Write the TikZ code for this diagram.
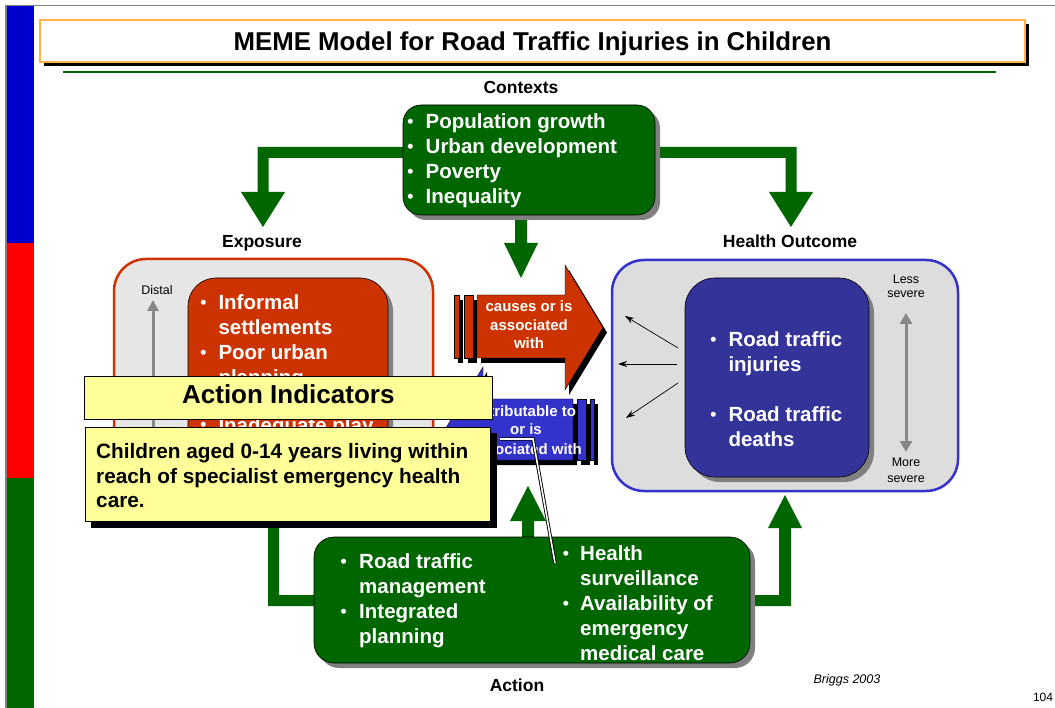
\documentclass[tikz,border=0pt]{standalone}
\usepackage{fontspec}
\setmainfont{Liberation Sans}
\usetikzlibrary{shadows,arrows.meta}
\definecolor{mgreen}{HTML}{006600}
\definecolor{mred}{HTML}{CC3300}
\definecolor{mblue}{HTML}{3333CC}
\definecolor{mnavy}{HTML}{333399}
\definecolor{lgray}{HTML}{E6E6E6}
\definecolor{hgray}{HTML}{DDDDDD}
\definecolor{yel}{HTML}{FFFF99}
\definecolor{orangeb}{HTML}{FFB347}
\definecolor{sgray}{HTML}{808080}
\definecolor{agray}{HTML}{888888}
\definecolor{barblue}{HTML}{0000CC}
\definecolor{barred}{HTML}{FF0000}
\newcommand{\bline}[5]{%
  \node[wtext,font=\fontsize{17.5}{20}\selectfont\bfseries,anchor=base] (#1b) at (#2,#4-1) {\textbullet};
  \node[wtext,anchor=base west] (#1) at (#3,#4) {#5};}
\newcommand{\contline}[4]{\node[wtext,anchor=base west] (#1) at (#2,#3) {#4};}
\begin{document}
\begin{tikzpicture}[x=1pt,y=-1pt,
  wtext/.style={font=\fontsize{20.5}{25}\selectfont\bfseries,text=white,inner sep=0pt},
  lab/.style={font=\fontsize{17.5}{20}\selectfont\bfseries,inner sep=0pt,anchor=base},
  small/.style={font=\fontsize{12.5}{15}\selectfont,inner sep=0pt,anchor=base},
  atext/.style={font=\fontsize{15}{18}\selectfont\bfseries,text=white,inner sep=0pt,anchor=base},
  gshadow/.style={drop shadow={shadow xshift=5pt,shadow yshift=-5pt,fill=sgray,opacity=1}},
  bshadow/.style={drop shadow={shadow xshift=#1,shadow yshift=-#1,fill=black,opacity=1}},
  conn/.style={fill=mgreen,draw=none},
  blk/.style={inner sep=0pt},
  thinarrow/.style={line width=0.7pt,-{Stealth[length=9pt,width=6pt]}},
  grayarrow/.style={agray,line width=3pt},
]
\useasboundingbox (0,0) rectangle (1055,708);
\fill[white] (0,0) rectangle (1055,708);
% side bars and frame
\fill[barblue] (7,6) rectangle (34,243);
\fill[barred] (7,243) rectangle (34,478);
\fill[mgreen] (7,478) rectangle (34,708);
\draw[gray,line width=1.2pt] (6,708) -- (6,5.5) -- (1055,5.5);
% title
\node[blk,draw=orangeb,line width=1.2pt,fill=white,minimum width=985pt,minimum height=42pt,bshadow=4pt] (titlebox) at (532.5,41) {};
\node[font=\fontsize{25.8}{30}\selectfont\bfseries,inner sep=0pt,anchor=base] (title) at (532.5,50.5) {MEME Model for Road Traffic Injuries in Children};
\draw[mgreen,line width=2.2pt] (63,72) -- (996,72);
% labels
\node[lab] (lctx) at (521,93.3) {Contexts};
\node[lab] (lexp) at (262,248) {Exposure};
\node[lab] (lho) at (790,248) {Health Outcome};
\node[lab] (lact) at (517,691) {Action};
\node[small,font=\fontsize{12.5}{15}\selectfont\itshape] (brig) at (847,683.5) {Briggs 2003};
\node[small,font=\fontsize{12}{14}\selectfont] (pnum) at (1043,701) {104};
% top green connectors
\fill[conn] (410,147) -- (257.5,147) -- (257.5,192) -- (241,192) -- (263,227) -- (285,192) -- (268.5,192) -- (268.5,158) -- (410,158) -- cycle;
\fill[conn] (650,147) -- (796.5,147) -- (796.5,192) -- (813,192) -- (791,227) -- (769,192) -- (785.5,192) -- (785.5,158) -- (650,158) -- cycle;
\fill[conn] (515,210) -- (515,243) -- (504,243) -- (521,278) -- (538,243) -- (527,243) -- (527,210) -- cycle;
% contexts box
\node[blk,draw=black,line width=0.6pt,fill=mgreen,rounded corners=18pt,minimum width=252pt,minimum height=110pt,gshadow] (ctx) at (529,160) {};
\bline{c1}{410.5}{425.5}{128.3}{Population growth}
\bline{c2}{410.5}{425.5}{153.3}{Urban development}
\bline{c3}{410.5}{425.5}{178.3}{Poverty}
\bline{c4}{410.5}{425.5}{203.3}{Inequality}
% exposure box
\node[blk,draw=mred,line width=2.5pt,fill=lgray,rounded corners=32pt,minimum width=319pt,minimum height=233pt] (exp) at (273.5,375.5) {};
\node[small] (distal) at (157,294.5) {Distal};
\coordinate (dlo) at (153,485);
\coordinate (dhi) at (153,300);
\draw[grayarrow,-{Triangle[length=11pt,width=11pt]}] (dlo) -- (dhi);
\node[blk,draw=black,line width=0.6pt,fill=mred,rounded corners=28pt,minimum width=200pt,minimum height=199pt,gshadow] (expin) at (288,377.5) {};
\bline{e1}{203.5}{218.3}{309.3}{Informal}
\contline{e2}{218.3}{334.3}{settlements}
\bline{e3}{203.5}{218.3}{359.3}{Poor urban}
\contline{e4}{218.3}{384.3}{planning}
\bline{e5}{203.5}{218.3}{432}{Inadequate play}
% health outcome box
\node[blk,draw=mblue,line width=2.5pt,fill=hgray,rounded corners=32pt,minimum width=346pt,minimum height=231pt] (ho) at (785,375.5) {};
\node[blk,draw=black,line width=0.6pt,fill=mnavy,rounded corners=30pt,minimum width=184pt,minimum height=199pt,gshadow] (hoin) at (777,377.5) {};
\bline{h1}{713.5}{728.3}{346.5}{Road traffic}
\contline{h2}{728.3}{371.5}{injuries}
\bline{h3}{713.5}{728.3}{421.7}{Road traffic}
\contline{h4}{728.3}{446.7}{deaths}
\node[small] (less1) at (906,283.5) {Less};
\node[small] (less2) at (906,297.5) {severe};
\node[small] (more1) at (906,466.5) {More};
\node[small] (more2) at (906,482) {severe};
\coordinate (sevtop) at (906,313);
\coordinate (sevbot) at (906,452);
\draw[grayarrow,{Triangle[length=11pt,width=12pt]}-{Triangle[length=11pt,width=12pt]}] (sevtop) -- (sevbot);
\coordinate (a1s) at (678,348); \coordinate (a1e) at (625,316);
\coordinate (a2s) at (677,364); \coordinate (a2e) at (618,364);
\coordinate (a3s) at (678,383); \coordinate (a3e) at (626,418);
\draw[thinarrow] (a1s) -- (a1e);
\draw[thinarrow] (a2s) -- (a2e);
\draw[thinarrow] (a3s) -- (a3e);
% red arrow (causes)
\begin{scope}[shift={(4,5)}]
\fill[black] (454,295) rectangle (459,358);
\fill[black] (464,295) rectangle (473,358);
\fill[black] (477,295) -- (565,295) -- (565,265) -- (603,327.5) -- (565,390) -- (565,358) -- (477,358) -- cycle;
\end{scope}
\filldraw[fill=mred,draw=black,line width=0.4pt] (454,295) rectangle (459,358);
\filldraw[fill=mred,draw=black,line width=0.4pt] (464,295) rectangle (473,358);
\filldraw[fill=mred,draw=black,line width=0.4pt] (477,295) -- (565,295) -- (565,265) -- (603,327.5) -- (565,390) -- (565,358) -- (477,358) -- cycle;
\node[atext] (r1) at (529,311.7) {causes or is};
\node[atext] (r2) at (529,330.5) {associated};
\node[atext] (r3) at (529,349) {with};
% blue arrow (attributable)
\begin{scope}[shift={(4,5)}]
\fill[black] (577,399) rectangle (586,460);
\fill[black] (590,399) rectangle (594,460);
\fill[black] (573,399) -- (483,399) -- (483,367) -- (445,429.5) -- (483,492) -- (483,460) -- (573,460) -- cycle;
\end{scope}
\filldraw[fill=mblue,draw=black,line width=0.4pt] (577,399) rectangle (586,460);
\filldraw[fill=mblue,draw=black,line width=0.4pt] (590,399) rectangle (594,460);
\filldraw[fill=mblue,draw=black,line width=0.4pt] (573,399) -- (483,399) -- (483,367) -- (445,429.5) -- (483,492) -- (483,460) -- (573,460) -- cycle;
\node[atext] (b1) at (526,416.7) {attributable to};
\node[atext] (b2) at (526,435) {or is};
\node[atext] (b3) at (526,454) {associated with};
% bottom green connectors
\fill[conn] (319,595) -- (279,595) -- (279,527) -- (291,527) -- (273.5,492) -- (256,527) -- (268,527) -- (268,606) -- (319,606) -- cycle;
\fill[conn] (522,545) -- (522,521) -- (510,521) -- (528,486) -- (546,521) -- (534,521) -- (534,545) -- cycle;
\fill[conn] (745,595) -- (779,595) -- (779,528) -- (768,528) -- (785,495) -- (802,528) -- (791,528) -- (791,606) -- (745,606) -- cycle;
% action box
\node[blk,draw=black,line width=0.6pt,fill=mgreen,rounded corners=20pt,minimum width=436pt,minimum height=126pt,gshadow] (act) at (532,600) {};
\bline{l1}{343.6}{359}{568.5}{Road traffic}
\contline{l2}{359}{593.5}{management}
\bline{l3}{343.6}{359}{618.5}{Integrated}
\contline{l4}{359}{643.5}{planning}
\bline{g1}{566}{580}{560.5}{Health}
\contline{g2}{580}{585.5}{surveillance}
\bline{g3}{566}{580}{610.5}{Availability of}
\contline{g4}{580}{635.5}{emergency}
\contline{g5}{580}{660.5}{medical care}
% action indicators callout
\node[blk,draw=black,line width=0.8pt,fill=yel,minimum width=408.4pt,minimum height=43.3pt] (aihead) at (288.5,397.65) {};
\node[font=\fontsize{26}{30}\selectfont\bfseries,inner sep=0pt,anchor=base] (aititle) at (288.3,403.3) {Action Indicators};
\node[blk,draw=black,line width=0.8pt,fill=yel,minimum width=405.7pt,minimum height=94.4pt,bshadow=6pt] (aibody) at (287.85,474.5) {};
\node[font=\fontsize{20.8}{25}\selectfont\bfseries,inner sep=0pt,anchor=base west] (ai1) at (96,458.3) {Children aged 0-14 years living within};
\node[font=\fontsize{20.8}{25}\selectfont\bfseries,inner sep=0pt,anchor=base west] (ai2) at (96,483.3) {reach of specialist emergency health};
\node[font=\fontsize{20.8}{25}\selectfont\bfseries,inner sep=0pt,anchor=base west] (ai3) at (96,507.3) {care.};
\coordinate (cl1) at (500,439);
\coordinate (cl2) at (533,439);
\coordinate (cl3) at (555,563);
\draw[line width=0.9pt,double=white,double distance=1.6pt] (cl1) -- (cl2) -- (cl3);
\end{tikzpicture}
\end{document}
